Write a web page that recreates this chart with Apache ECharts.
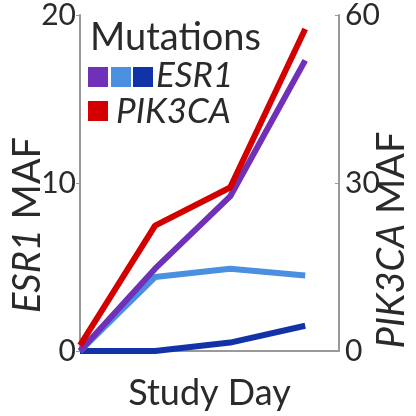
<!DOCTYPE html>
<html>
<head>
<meta charset="utf-8">
<script src="https://cdn.jsdelivr.net/npm/echarts@6/dist/echarts.min.js"></script>
<style>
  html, body { margin: 0; padding: 0; background: #fff; }
  #chart { width: 416px; height: 416px; }
</style>
</head>
<body>
<div id="chart"></div>
<script>
// study day index (no tick labels in the original)
var days = [0, 1, 2, 3];
// ESR1 MAF (left axis), three mutations
var esr1Purple = [0, 4.9, 9.2, 17.3];
var esr1Light = [0, 4.4, 4.9, 4.5];
var esr1Dark = [0, 0, 0.5, 1.5];
// PIK3CA MAF (right axis)
var pik3ca = [1, 22.4, 29.2, 57.5];
var leftTicks = [0, 10, 20];
var rightTicks = [0, 30, 60];

var colors = {
  purple: "#7030b8",
  light: "#4a8fe0",
  dark: "#1232a8",
  red: "#d40000",
};

function pairs(ys) {
  return days.map(function (d, i) {
    return [d, ys[i]];
  });
}

var font = "Lato, 'Open Sans', sans-serif";
var ink = "#2a2a2a";
var myChart = echarts.init(document.getElementById("chart"));

function lineSeries(name, ys, color, yIndex) {
  return {
    name: name,
    type: "line",
    yAxisIndex: yIndex,
    data: pairs(ys),
    showSymbol: false,
    lineStyle: { color: color, width: 6 },
    itemStyle: { color: color },
    animation: false,
  };
}

myChart.setOption({
  animation: false,
  grid: { left: 80, right: 77, top: 15, bottom: 45 },
  xAxis: {
    type: "value",
    min: 0,
    max: 3.45,
    axisLine: { show: true, lineStyle: { color: "#999", width: 2 } },
    axisTick: { show: false },
    axisLabel: { show: false },
    splitLine: { show: false },
    name: "Study Day",
    nameLocation: "middle",
    nameGap: 24,
    nameTextStyle: { fontFamily: font, fontSize: 36, color: ink },
  },
  yAxis: [
    {
      type: "value",
      min: 0,
      max: 20,
      interval: 10,
      axisLine: { show: true, lineStyle: { color: "#999", width: 2 } },
      axisTick: { show: true, length: 4, lineStyle: { color: "#999" } },
      axisLabel: {
        fontFamily: font,
        fontSize: 30,
        color: ink,
        margin: 4,
        formatter: function (v) {
          return leftTicks.indexOf(v) >= 0 ? String(v) : "";
        },
      },
      splitLine: { show: false },
    },
    {
      type: "value",
      min: 0,
      max: 60,
      interval: 30,
      position: "right",
      axisLine: { show: true, lineStyle: { color: "#999", width: 2 } },
      axisTick: { show: true, inside: true, length: 4, lineStyle: { color: "#999" } },
      axisLabel: {
        fontFamily: font,
        fontSize: 30,
        color: ink,
        margin: 6,
        formatter: function (v) {
          return rightTicks.indexOf(v) >= 0 ? String(v) : "";
        },
      },
      splitLine: { show: false },
    },
  ],
  series: [
    lineSeries("ESR1 a", esr1Dark, colors.dark, 0),
    lineSeries("ESR1 b", esr1Light, colors.light, 0),
    lineSeries("ESR1 c", esr1Purple, colors.purple, 0),
    lineSeries("PIK3CA", pik3ca, colors.red, 1),
  ],
  graphic: [
    // legend
    {
      type: "text",
      x: 90,
      y: 38,
      style: { text: "Mutations", fontFamily: font, fontSize: 38, fill: ink, verticalAlign: "middle" },
    },
    { type: "rect", shape: { x: 88, y: 67, width: 20, height: 20 }, style: { fill: colors.purple } },
    { type: "rect", shape: { x: 111, y: 67, width: 20, height: 20 }, style: { fill: colors.light } },
    { type: "rect", shape: { x: 133, y: 67, width: 20, height: 20 }, style: { fill: colors.dark } },
    {
      type: "text",
      x: 156,
      y: 76,
      style: { text: "ESR1", fontFamily: font, fontSize: 35, fontStyle: "italic", fill: ink, verticalAlign: "middle" },
    },
    { type: "rect", shape: { x: 88, y: 101, width: 20, height: 20 }, style: { fill: colors.red } },
    {
      type: "text",
      x: 116,
      y: 112,
      style: { text: "PIK3CA", fontFamily: font, fontSize: 35, fontStyle: "italic", fill: ink, verticalAlign: "middle" },
    },
    // axis titles
    {
      type: "text",
      x: 28,
      y: 225,
      rotation: Math.PI / 2,
      style: {
        text: "{i|ESR1} MAF",
        align: "center",
        verticalAlign: "middle",
        fontFamily: font,
        fontSize: 38,
        fill: ink,
        rich: { i: { fontStyle: "italic", fontFamily: font, fontSize: 38, fill: ink } },
      },
    },
    {
      type: "text",
      x: 392,
      y: 240,
      rotation: Math.PI / 2,
      style: {
        text: "{i|PIK3CA} MAF",
        align: "center",
        verticalAlign: "middle",
        fontFamily: font,
        fontSize: 38,
        fill: ink,
        rich: { i: { fontStyle: "italic", fontFamily: font, fontSize: 38, fill: ink } },
      },
    },
  ],
});
</script>
</body>
</html>
